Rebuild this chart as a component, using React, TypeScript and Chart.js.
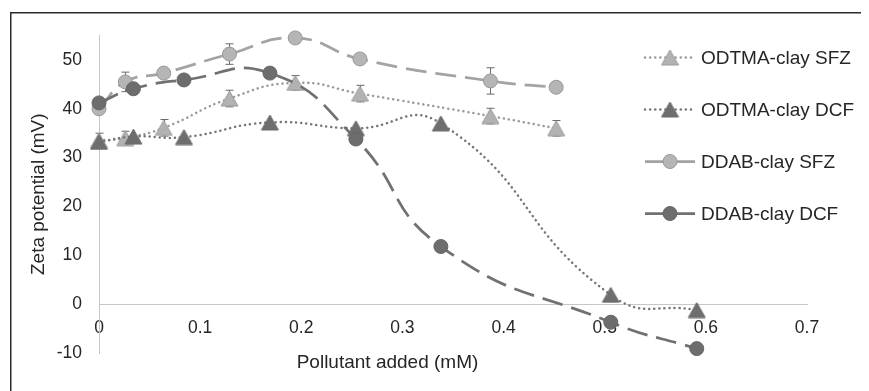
import React, { useEffect, useRef } from "react";
import { Chart, registerables } from "chart.js";

Chart.register(...registerables);

// ---- data ----
const seriesNames = ["ODTMA-clay SFZ", "ODTMA-clay DCF", "DDAB-clay SFZ", "DDAB-clay DCF"];
const sfzX = [0, 0.026, 0.064, 0.129, 0.194, 0.258, 0.387, 0.452];
const dcfX = [0, 0.034, 0.084, 0.169, 0.254, 0.338, 0.506, 0.591];
const odtmaSfz = [33.5, 34.0, 36.1, 42.1, 45.3, 43.1, 38.5, 36.0];
const odtmaSfzErr = [1.5, 1.4, 1.7, 1.7, 1.5, 1.7, 1.6, 1.6];
const odtmaDcf = [33.2, 34.3, 34.2, 37.2, 36.0, 37.0, 1.9, -1.2];
const ddabSfz = [40.0, 45.5, 47.3, 51.2, 54.5, 50.2, 45.7, 44.4];
const ddabSfzErr = [0.8, 2.0, 0.6, 2.1, 0.5, 0.8, 2.7, 0.7];
const ddabDcf = [41.2, 44.1, 45.9, 47.3, 33.8, 11.8, -3.7, -9.1];
const xTicks = [0, 0.1, 0.2, 0.3, 0.4, 0.5, 0.6, 0.7];
const xTickLabels = ["0", "0.1", "0.2", "0.3", "0.4", "0.5", "0.6", "0.7"];
const yTicks = [-10, 0, 10, 20, 30, 40, 50];
const yTickLabels = ["-10", "0", "10", "20", "30", "40", "50"];
const xTitle = "Pollutant added (mM)";
const yTitle = "Zeta potential (mV)";

const FONT = "'Liberation Sans', Arial, Helvetica, sans-serif";
const TEXT = "#262626";

function triangleImage(fill: string, stroke: string) {
  const w = 17, h = 15;
  const c = document.createElement("canvas");
  c.width = w + 2;
  c.height = h + 2;
  const ctx = c.getContext("2d")!;
  ctx.beginPath();
  ctx.moveTo(1 + w / 2, 1);
  ctx.lineTo(1 + w, 1 + h);
  ctx.lineTo(1, 1 + h);
  ctx.closePath();
  ctx.fillStyle = fill;
  ctx.fill();
  ctx.strokeStyle = stroke;
  ctx.lineWidth = 1;
  ctx.stroke();
  return c;
}

const framePlugin = {
  id: "frame",
  beforeDraw(chart: any) {
    const { ctx, width, height } = chart;
    ctx.save();
    ctx.fillStyle = "#ffffff";
    ctx.fillRect(0, 0, width, height);
    ctx.strokeStyle = "#2a2a2a";
    ctx.lineWidth = 1.5;
    ctx.beginPath();
    ctx.moveTo(2.75, height + 2);
    ctx.lineTo(2.75, 4.75);
    ctx.lineTo(width + 2, 4.75);
    ctx.stroke();
    ctx.restore();
  },
};

const errorBarPlugin = {
  id: "errorBars",
  beforeDatasetsDraw(chart: any) {
    const { ctx } = chart;
    const xs = chart.scales.x;
    const ys = chart.scales.y;
    chart.data.datasets.forEach((ds: any) => {
      const errs = ds.errors;
      if (!errs) return;
      ds.data.forEach((p: any, j: number) => {
        const e = errs[j];
        if (!e) return;
        const px = Math.round(xs.getPixelForValue(p.x)) + 0.5;
        const y1 = ys.getPixelForValue(p.y + e);
        const y2 = ys.getPixelForValue(p.y - e);
        ctx.save();
        ctx.strokeStyle = "#6a6a6a";
        ctx.lineWidth = 1;
        ctx.beginPath();
        ctx.moveTo(px, y1);
        ctx.lineTo(px, y2);
        ctx.moveTo(px - 4, y1);
        ctx.lineTo(px + 4, y1);
        ctx.moveTo(px - 4, y2);
        ctx.lineTo(px + 4, y2);
        ctx.stroke();
        ctx.restore();
      });
    });
  },
};

const titlesPlugin = {
  id: "titles",
  afterDraw(chart: any) {
    const { ctx, chartArea } = chart;
    ctx.save();
    ctx.fillStyle = TEXT;
    ctx.font = `19px ${FONT}`;
    ctx.textAlign = "center";
    ctx.textBaseline = "middle";
    ctx.fillText(xTitle, chartArea.left + 288.5, chartArea.bottom + 10);
    ctx.translate(30.5, (chartArea.top + chartArea.bottom) / 2);
    ctx.rotate(-Math.PI / 2);
    ctx.fillText(yTitle, 0, 0);
    ctx.restore();
  },
};

const legendPlugin = {
  id: "customLegend",
  afterDraw(chart: any) {
    const { ctx, chartArea } = chart;
    const x0 = chartArea.right - 162;
    const x1 = x0 + 50;
    const mx = x0 + 25;
    const tx = x1 + 6;
    chart.data.datasets.forEach((ds: any, i: number) => {
      const y = chartArea.top + 22 + i * 52;
      ctx.save();
      ctx.strokeStyle = ds.borderColor;
      ctx.lineWidth = ds.borderWidth;
      ctx.lineCap = ds.borderCapStyle || "butt";
      ctx.setLineDash(ds.borderDash || []);
      ctx.beginPath();
      ctx.moveTo(x0, y);
      ctx.lineTo(x1, y);
      ctx.stroke();
      ctx.setLineDash([]);
      const ps = ds.pointStyle;
      if (ps && typeof ps === "object") {
        ctx.drawImage(ps, mx - ps.width / 2, y - ps.height / 2);
      } else {
        ctx.beginPath();
        ctx.arc(mx, y, ds.pointRadius, 0, Math.PI * 2);
        ctx.fillStyle = ds.pointBackgroundColor;
        ctx.fill();
        ctx.lineWidth = ds.pointBorderWidth;
        ctx.strokeStyle = ds.pointBorderColor;
        ctx.stroke();
      }
      ctx.fillStyle = TEXT;
      ctx.font = `19px ${FONT}`;
      ctx.textAlign = "left";
      ctx.textBaseline = "middle";
      ctx.fillText(ds.label, tx, y + 1);
      ctx.restore();
    });
  },
};

export default function App() {
  const ref = useRef<HTMLCanvasElement | null>(null);

  useEffect(() => {
    if (!ref.current) return;
    const triLight = triangleImage("#b2b2b2", "#9c9c9c");
    const triDark = triangleImage("#6e6e6e", "#6a6a6a");
    const tickFont = { family: FONT, size: 17.5 };

    const chart = new Chart(ref.current, {
      type: "line",
      data: {
        datasets: [
          {
            label: seriesNames[0],
            data: sfzX.map((x, i) => ({ x, y: odtmaSfz[i] })),
            errors: odtmaSfzErr,
            borderColor: "#9a9a9a",
            borderWidth: 2.5,
            borderDash: [0.1, 5],
            borderCapStyle: "round",
            pointStyle: triLight,
            pointRadius: 8,
            tension: 0.5,
            order: 4,
            clip: false,
            fill: false,
          },
          {
            label: seriesNames[1],
            data: dcfX.map((x, i) => ({ x, y: odtmaDcf[i] })),
            borderColor: "#767676",
            borderWidth: 2.5,
            borderDash: [0.1, 5],
            borderCapStyle: "round",
            pointStyle: triDark,
            pointRadius: 8,
            tension: 0.5,
            order: 3,
            clip: false,
            fill: false,
          },
          {
            label: seriesNames[2],
            data: sfzX.map((x, i) => ({ x, y: ddabSfz[i] })),
            errors: ddabSfzErr,
            borderColor: "#a3a3a3",
            borderWidth: 2.75,
            borderDash: [21, 9],
            borderCapStyle: "butt",
            pointStyle: "circle",
            pointRadius: 7,
            pointBackgroundColor: "#b5b5b5",
            pointBorderColor: "#999999",
            pointBorderWidth: 1,
            tension: 0.5,
            order: 2,
            clip: false,
            fill: false,
          },
          {
            label: seriesNames[3],
            data: dcfX.map((x, i) => ({ x, y: ddabDcf[i] })),
            borderColor: "#717171",
            borderWidth: 2.75,
            borderDash: [21, 9],
            borderCapStyle: "butt",
            pointStyle: "circle",
            pointRadius: 7,
            pointBackgroundColor: "#6d6d6d",
            pointBorderColor: "#666666",
            pointBorderWidth: 1,
            tension: 0.5,
            order: 1,
            clip: false,
            fill: false,
          },
        ] as any,
      },
      options: {
        responsive: false,
        animation: false,
        events: [],
        layout: { padding: { left: 0, right: 54, top: 24, bottom: 38 } },
        plugins: { legend: { display: false }, tooltip: { enabled: false } },
        scales: {
          x: {
            type: "linear",
            min: 0,
            max: 0.7,
            position: { y: 0 } as any,
            afterBuildTicks: (s: any) => {
              s.ticks = xTicks.map((v) => ({ value: v }));
            },
            grid: { display: true, drawOnChartArea: false, drawTicks: false },
            border: { display: true, color: "#c6c6c6", width: 1 },
            ticks: {
              padding: 14,
              font: tickFont,
              color: TEXT,
              maxRotation: 0,
              autoSkip: false,
              callback: (_v: any, i: number) => xTickLabels[i],
            },
          },
          y: {
            type: "linear",
            min: -10,
            max: 55,
            position: "left",
            afterFit: (s: any) => {
              s.width = 91;
            },
            afterBuildTicks: (s: any) => {
              s.ticks = yTicks.map((v) => ({ value: v }));
            },
            grid: { display: true, drawOnChartArea: false, drawTicks: false },
            border: { display: true, color: "#c6c6c6", width: 1 },
            ticks: {
              padding: 17,
              font: tickFont,
              color: TEXT,
              autoSkip: false,
              callback: (_v: any, i: number) => yTickLabels[i],
            },
          },
        },
      } as any,
      plugins: [framePlugin, errorBarPlugin, titlesPlugin, legendPlugin],
    });
    return () => chart.destroy();
  }, []);

  return (
    <div style={{ width: 853, height: 383 }}>
      <canvas ref={ref} width={853} height={383} style={{ display: "block" }} />
    </div>
  );
}
